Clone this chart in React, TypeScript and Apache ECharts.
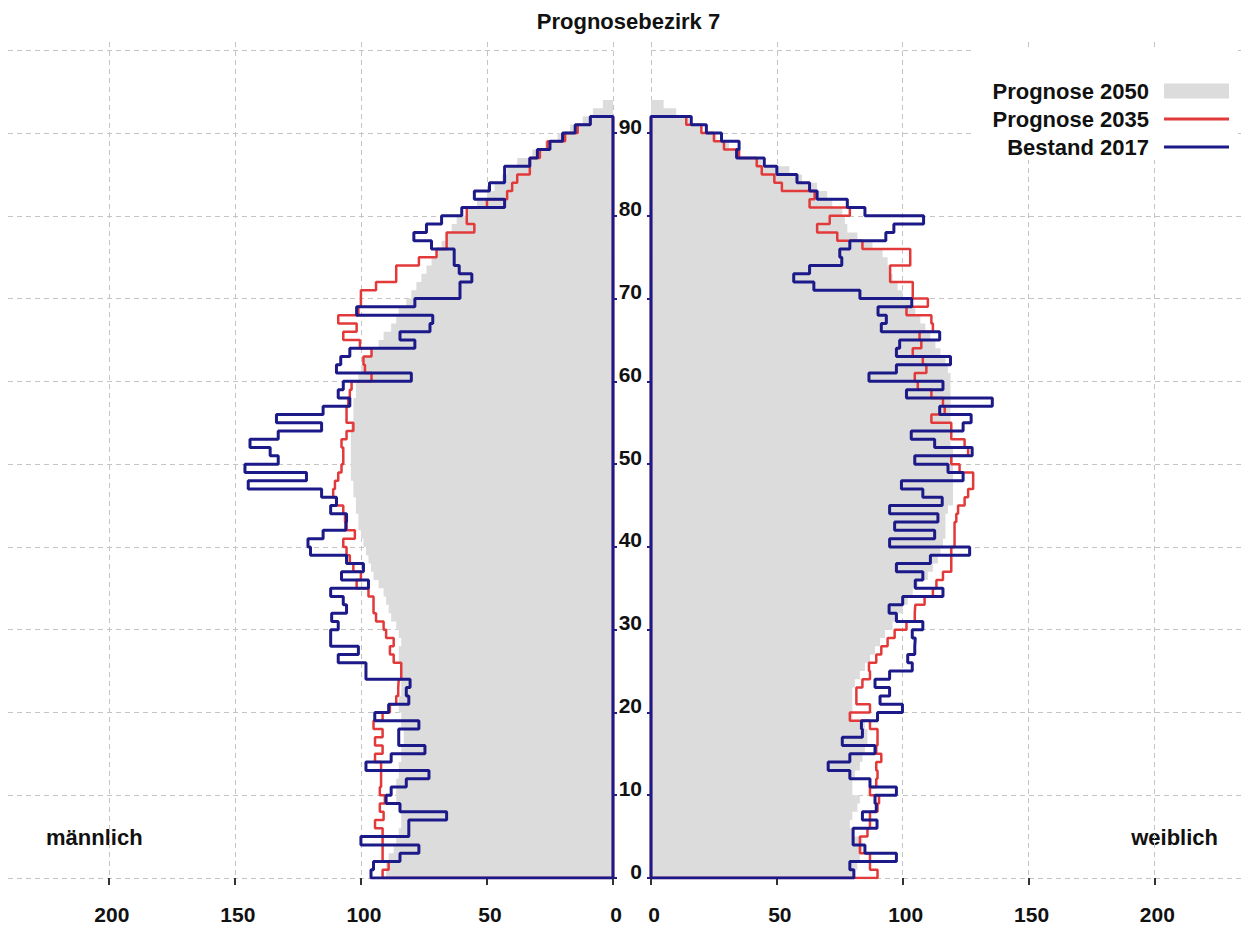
import React, { useEffect, useRef } from 'react';
import * as echarts from 'echarts';

// ---------- data (population by single year of age, index = age) ----------
const ageBoundaries: string[] = Array.from({ length: 102 }, (_, i) => String(i));

const maleBestand2017 = [
  96, 95, 84.5, 77, 100, 81, 81, 66, 84.5, 90,
  88, 82, 73, 98, 88, 74.6, 85, 85, 77, 94.5,
  89, 81, 82, 80.5, 98, 98, 109, 101, 112, 112,
  109, 111.6, 105.7, 107, 112, 97, 107.7, 99, 105.7, 120,
  121, 115, 106, 105.7, 112, 109.7, 115.6, 144.7, 121.6, 146,
  132.8, 136, 144, 132.8, 115.6, 133.5, 115, 104.4, 109, 107,
  80, 109.7, 108, 104.4, 78.6, 84.5, 72.6, 71.5, 101.7, 78.6,
  60.7, 60.7, 56, 61, 63, 63, 72, 79, 74, 68,
  60, 43, 55, 49, 43, 43, 33, 30, 25, 20,
  15, 9,
];

const malePrognose2035 = [
  91.4, 89, 91.4, 91.4, 91.4, 91.4, 94.4, 91, 92.5, 90.5,
  92.5, 92, 92, 92, 94.4, 91.4, 94.4, 91.4, 95, 91.4,
  88.5, 86, 85.2, 85, 84, 84, 87, 88.5, 87, 90,
  91, 94, 95, 95, 97, 101.7, 100, 103, 104.4, 105.7,
  107, 102.4, 105.7, 106.3, 107, 109.7, 111, 110.3, 109, 107.7,
  107, 107, 107.7, 105.7, 103, 105.7, 105.7, 105, 104.4, 103.7,
  95.8, 98.4, 99, 95.8, 100.4, 107, 101.7, 109, 101, 100,
  100, 94, 86, 86, 77, 70, 66, 66, 55, 58,
  58, 50, 42, 40, 38, 33, 33, 29, 26, 19,
  14, 9,
];

const malePrognose2050 = [
  90, 90, 89, 87, 86, 85, 84, 84, 85, 86,
  86, 86, 85, 85, 84, 84, 83, 83, 84, 84,
  85, 85, 84, 84, 84, 84, 85, 85, 84, 85,
  86, 88, 89, 90, 91, 93, 95, 96, 97, 98,
  99, 100, 101, 101, 102, 102, 103, 103, 104, 104,
  104, 104, 104, 104, 104, 103, 103, 103, 102, 102,
  101, 100, 99, 96, 93, 91, 88, 86, 85, 82,
  80, 78, 76, 74, 72, 70, 68, 66, 64, 62,
  58, 54, 50, 47, 44, 42, 38, 32, 27, 22,
  17, 12, 8, 4, 0,
];

const femaleBestand2017 = [
  80.6, 79, 97.5, 85, 80.3, 80.3, 89.8, 84, 89.5, 89,
  97.5, 87, 79, 70.4, 79, 89, 76, 84, 83.6, 90,
  99.9, 91, 94.8, 89, 94.8, 103.8, 102, 104.8, 105, 103.8,
  108, 97.5, 94.6, 100, 116, 105, 108, 97.5, 111, 126.6,
  94.8, 112.7, 96.8, 114, 94.8, 115.7, 108, 99.5, 124, 118,
  104.8, 127.6, 112.7, 103.4, 124, 127.2, 114.7, 135.6, 101.5, 116,
  86.6, 97.5, 119, 97.5, 98.8, 114.7, 91.5, 93.5, 90.2, 103.6,
  83, 64.7, 56.7, 63, 75.8, 75, 79, 93.3, 96.5, 108.3,
  85, 78, 66, 63, 58, 50, 45, 34, 35, 28,
  22, 16,
];

const femalePrognose2035 = [
  90, 87, 87, 83, 83, 86, 87, 87, 90, 90.6,
  87, 89.5, 90, 89.5, 91.5, 89.5, 90, 90, 87, 79,
  87, 81.6, 81.6, 84, 87, 86.6, 89.5, 91.5, 94, 96.8,
  101.5, 104.8, 105, 108.7, 112, 113.4, 116, 119.3, 119.3, 119.3,
  120.6, 120.6, 120.6, 121.3, 122, 124.6, 126, 128, 128, 122.6,
  119.3, 126, 124.6, 119.3, 119.3, 111.4, 116.7, 116, 111.4, 106,
  104.8, 109.4, 108, 104, 107.4, 106.7, 112, 111.4, 101.5, 110,
  104, 104, 95, 95, 103, 103, 84, 74, 66, 71,
  79, 63, 65, 52, 49, 44, 42, 35, 29, 25,
  20, 14,
];

const femalePrognose2050 = [
  81, 82, 83, 84, 84, 80, 79, 80, 82, 83,
  80, 80, 81, 83, 84, 85, 86, 86, 85, 80,
  80, 80, 80, 81, 83, 85, 87, 89, 91, 93,
  96, 98, 100, 102, 104, 106, 110, 112, 114, 115,
  116, 117, 117, 117, 118, 120, 120, 120, 120, 120,
  120, 120, 119, 119, 119, 119, 119, 119, 119, 119,
  119, 118, 117, 115, 113, 111, 109, 107, 105, 103,
  100, 98, 96, 95, 94, 92, 88, 82, 78, 77,
  76, 72, 70, 66, 60, 55, 44, 35, 31, 26,
  20, 15, 10, 5, 0,
];

const xTickValues = [0, 50, 100, 150, 200];
const yGridValues = [0, 10, 20, 30, 40, 50, 60, 70, 80, 90, 100];
const yLabelValues = [0, 10, 20, 30, 40, 50, 60, 70, 80, 90];

const TITLE = 'Prognosebezirk 7';
const NAME_2050 = 'Prognose 2050';
const NAME_2035 = 'Prognose 2035';
const NAME_2017 = 'Bestand 2017';

// ---------- styles ----------
const FONT = '"Liberation Sans", Arial, Helvetica, sans-serif';
const GRAY = '#dcdcdc';
const RED = '#e23a3a';
const BLUE = '#1c1a88';
const GRIDLINE = { color: '#c4c4c4', type: [5, 4] as number[], width: 1 };
const LINE_ICON = 'path://M0,0L65,0L65,3L0,3Z';

// step outline (closed along the axis) from per-age values
function stepOutline(values: number[]): number[][] {
  const pts: number[][] = [[0, 0]];
  values.forEach((v, i) => {
    pts.push([v, i], [v, i + 1]);
  });
  pts.push([0, values.length], [0, 0]);
  return pts;
}

function xAxisCfg(gridIndex: number, max: number, inverse: boolean) {
  return {
    type: 'value',
    gridIndex,
    min: 0,
    max,
    inverse,
    axisLine: { show: false },
    axisTick: { show: true, length: 7, lineStyle: { color: '#333', width: 2 }, customValues: xTickValues },
    axisLabel: {
      customValues: xTickValues,
      margin: 26,
      padding: [0, 0, 0, 6],
      fontFamily: FONT,
      fontWeight: 'bold',
      fontSize: 21,
      color: '#111',
    },
    splitLine: { show: true, lineStyle: GRIDLINE },
  };
}

function gridLinesAxis(gridIndex: number) {
  return {
    type: 'value',
    gridIndex,
    min: 0,
    max: 101,
    axisLine: { show: false },
    axisTick: { show: false, customValues: yGridValues },
    axisLabel: { show: false },
    splitLine: { show: true, lineStyle: GRIDLINE },
  };
}

function grayArea(gridAxis: number, catAxis: number, data: number[]) {
  return {
    name: NAME_2050,
    type: 'line',
    xAxisIndex: gridAxis,
    yAxisIndex: catAxis,
    data,
    step: 'end',
    symbol: 'none',
    lineStyle: { width: 0, color: GRAY },
    itemStyle: { color: GRAY },
    areaStyle: { color: GRAY, opacity: 1 },
    silent: true,
    z: 1,
  };
}

export default function App() {
  const ref = useRef<HTMLDivElement>(null);

  useEffect(() => {
    document.body.style.margin = '0';
    if (!ref.current) return;
    const chart = echarts.init(ref.current, undefined, { renderer: 'svg' });

    const option: any = {
      animation: false,
      backgroundColor: '#ffffff',
      title: {
        text: TITLE,
        left: 'center',
        top: 10,
        padding: 0,
        textStyle: { fontFamily: FONT, fontWeight: 'bold', fontSize: 22, color: '#111', lineHeight: 22 },
      },
      legend: {
        orient: 'vertical',
        align: 'right',
        right: 19,
        top: 50,
        padding: [30, 9, 2, 21],
        backgroundColor: '#ffffff',
        itemWidth: 65,
        itemHeight: 15,
        itemGap: 6,
        selectedMode: false,
        z: 10,
        textStyle: {
          fontFamily: FONT,
          fontWeight: 'bold',
          fontSize: 22,
          color: '#111',
          lineHeight: 22,
          padding: [0, 10, 0, 0],
        },
        data: [
          { name: NAME_2050, icon: 'rect', itemStyle: { color: GRAY } },
          { name: NAME_2035, icon: LINE_ICON, itemStyle: { color: RED } },
          { name: NAME_2017, icon: LINE_ICON, itemStyle: { color: BLUE } },
        ],
      },
      graphic: [
        {
          type: 'text',
          left: 46,
          top: 826,
          style: { text: 'männlich', fontFamily: FONT, fontWeight: 'bold', fontSize: 22, fill: '#111' },
        },
        {
          type: 'text',
          right: 39,
          top: 826,
          style: { text: 'weiblich', fontFamily: FONT, fontWeight: 'bold', fontSize: 22, fill: '#111' },
        },
      ],
      grid: [
        { left: 8, top: 42, width: 605, height: 836 },
        { left: 651, top: 42, width: 594, height: 836 },
      ],
      xAxis: [xAxisCfg(0, 240, true), xAxisCfg(1, 236, false)],
      yAxis: [
        {
          type: 'value',
          gridIndex: 0,
          min: 0,
          max: 101,
          position: 'right',
          axisLine: { show: false },
          axisTick: { show: true, length: 4, lineStyle: { color: BLUE, width: 2 }, customValues: yLabelValues },
          axisLabel: { show: false },
          splitLine: { show: false },
        },
        {
          type: 'value',
          gridIndex: 1,
          min: 0,
          max: 101,
          position: 'left',
          axisLine: { show: false },
          axisTick: { show: true, length: 4, lineStyle: { color: BLUE, width: 2 }, customValues: yLabelValues },
          axisLabel: {
            customValues: yLabelValues,
            margin: 9,
            verticalAlign: 'bottom',
            lineHeight: 14,
            fontFamily: FONT,
            fontWeight: 'bold',
            fontSize: 21,
            color: '#111',
          },
          splitLine: { show: false },
        },
        { type: 'category', gridIndex: 0, data: ageBoundaries, show: false, boundaryGap: false },
        { type: 'category', gridIndex: 1, data: ageBoundaries, show: false, boundaryGap: false },
        gridLinesAxis(0),
        gridLinesAxis(1),
      ],
      series: [
        grayArea(0, 2, malePrognose2050),
        grayArea(1, 3, femalePrognose2050),
        {
          name: NAME_2035,
          type: 'line',
          xAxisIndex: 0,
          yAxisIndex: 0,
          data: stepOutline(malePrognose2035),
          symbol: 'none',
          lineStyle: { color: RED, width: 2.5 },
          itemStyle: { color: RED },
          silent: true,
          z: 3,
        },
        {
          name: NAME_2035,
          type: 'line',
          xAxisIndex: 1,
          yAxisIndex: 1,
          data: stepOutline(femalePrognose2035),
          symbol: 'none',
          lineStyle: { color: RED, width: 2.5 },
          itemStyle: { color: RED },
          silent: true,
          z: 3,
        },
        {
          name: NAME_2017,
          type: 'line',
          xAxisIndex: 0,
          yAxisIndex: 0,
          data: stepOutline(maleBestand2017),
          symbol: 'none',
          lineStyle: { color: BLUE, width: 3 },
          itemStyle: { color: BLUE },
          silent: true,
          z: 4,
        },
        {
          name: NAME_2017,
          type: 'line',
          xAxisIndex: 1,
          yAxisIndex: 1,
          data: stepOutline(femaleBestand2017),
          symbol: 'none',
          lineStyle: { color: BLUE, width: 3 },
          itemStyle: { color: BLUE },
          silent: true,
          z: 4,
        },
      ],
    };

    chart.setOption(option);
    return () => chart.dispose();
  }, []);

  return <div ref={ref} style={{ width: 1257, height: 927 }} />;
}
